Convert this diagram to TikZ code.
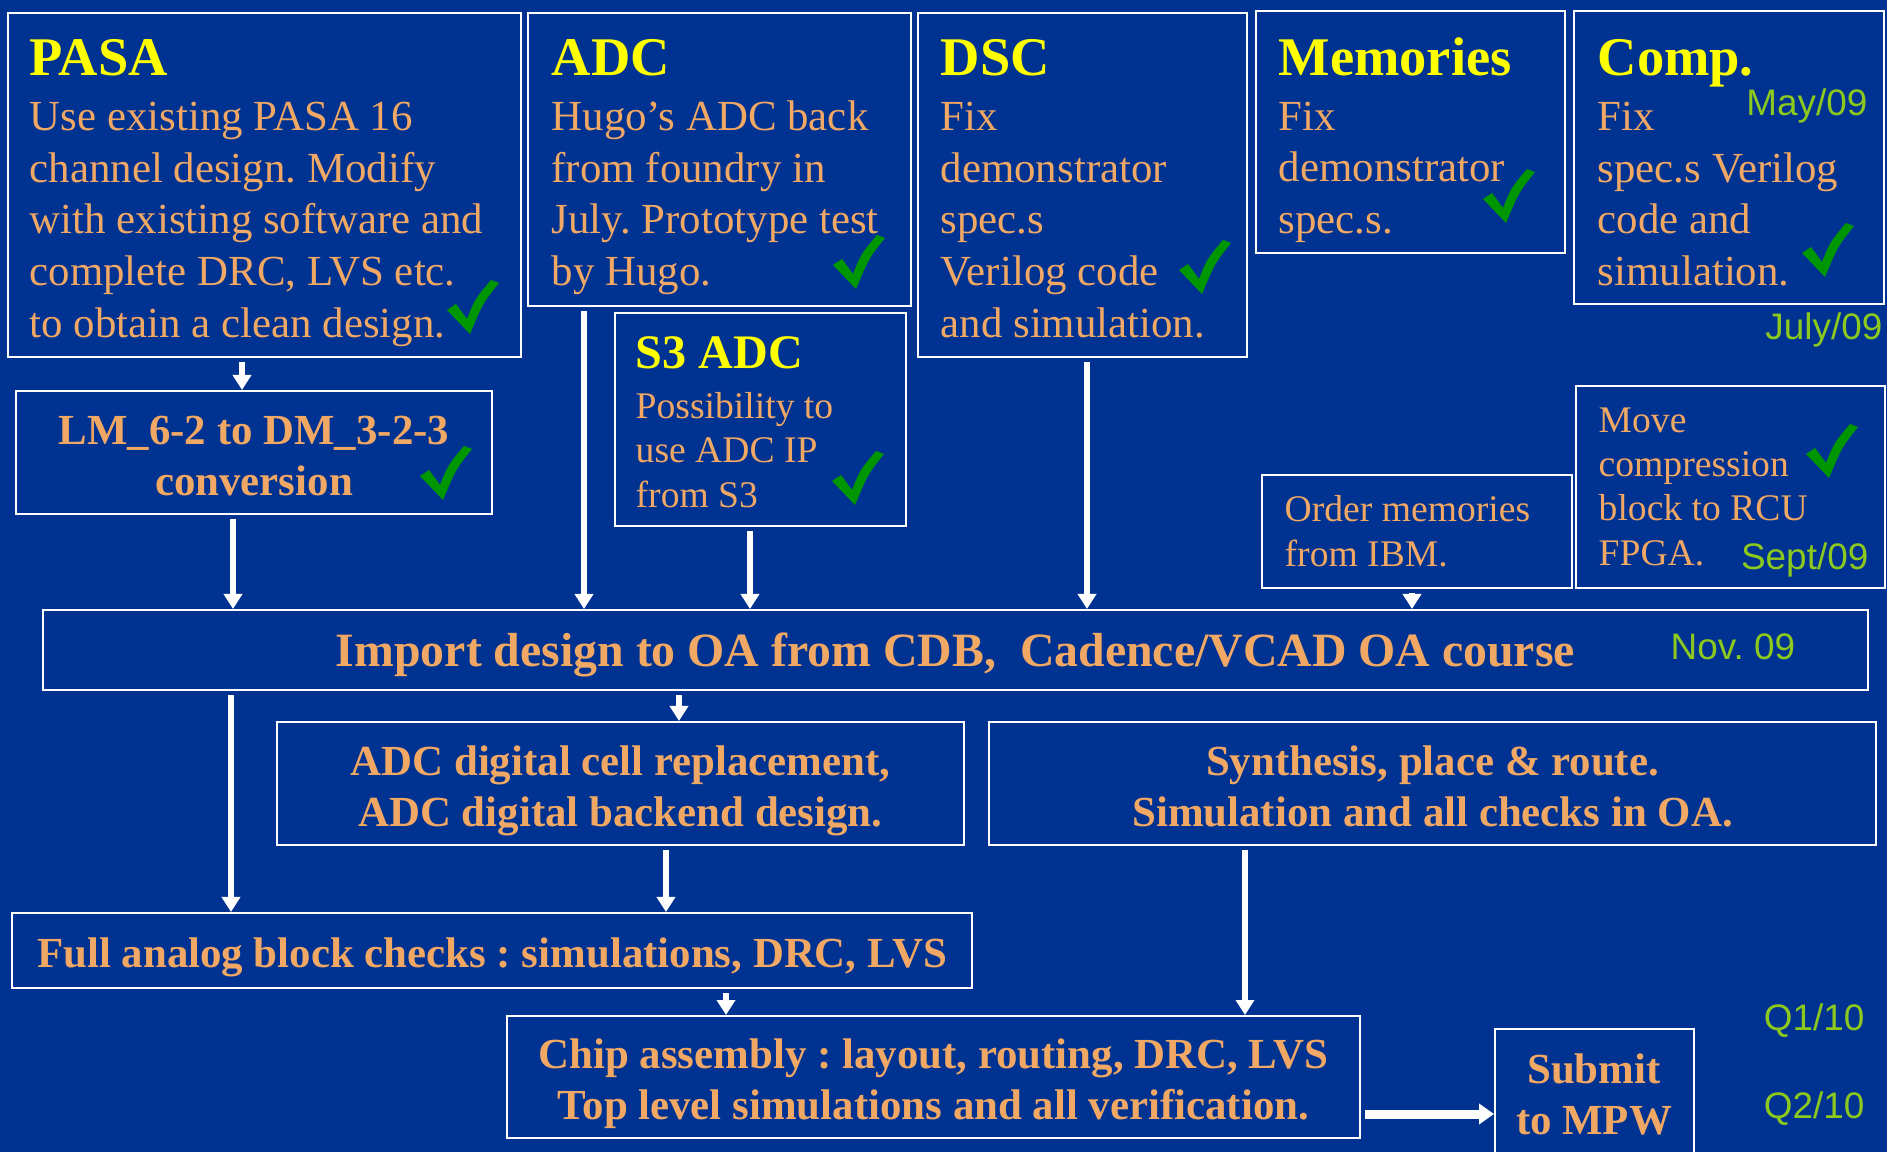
\documentclass[tikz,border=0pt]{standalone}
\usepackage{fontspec}
\setmainfont{Liberation Serif}
\newfontfamily\datefont{Liberation Sans}
\usetikzlibrary{fit,arrows.meta}
\frenchspacing

\definecolor{slidebg}{RGB}{0,50,145}
\definecolor{bodytxt}{RGB}{240,168,100}
\definecolor{headtxt}{RGB}{255,255,0}
\definecolor{datetxt}{RGB}{140,200,30}
\definecolor{tickgreen}{RGB}{0,150,0}

\newcommand\heading[2][15.5]{{\fontsize{#1}{14.5}\selectfont\bfseries\color{headtxt}#2}}

\tikzset{
  blk/.style={draw=white, line width=0.2mm, inner sep=0pt},
  txt/.style={text=bodytxt, inner sep=0pt, align=left, anchor=north west,
    font=\fontsize{12.2}{14.7}\selectfont},
  small txt/.style={txt, font=\fontsize{10.7}{12.6}\selectfont},
  bold txt/.style={text=bodytxt, inner sep=0pt, align=center,
    font=\fontsize{12.2}{14.5}\selectfont\bfseries},
  datelbl/.style={text=datetxt, inner sep=0pt, anchor=base east,
    font=\datefont\fontsize{10.5}{12}\selectfont},
  flow/.style={draw=white, line width=0.55mm, shorten <=0.4mm,
    -{Triangle[length=1.5mm,width=1.8mm]}},
  donemark/.pic={
    \fill[tickgreen] (-26,3) -- (-17,-3) -- (-6,12) .. controls (2,-8) .. (18,-27)
      -- (26,-24) .. controls (10,-4) .. (-3,27) -- cycle;
  }
}

\begin{document}
\begin{tikzpicture}[x=0.1mm, y=-0.1mm]
  \fill[slidebg] (0,0) rectangle (1887,1152);
  \clip (0,0) rectangle (1887,1152);

  % top row
  \node[blk, fit={(8,13) (521,357)}] (pasa) {};
  \node[blk, fit={(528,13) (911,306)}] (adc) {};
  \node[blk, fit={(615,313) (906,526)}] (s3) {};
  \node[blk, fit={(918,13) (1247,357)}] (dsc) {};
  \node[blk, fit={(1256,11) (1565,253)}] (mem) {};
  \node[blk, fit={(1574,11) (1884,304)}] (comp) {};
  \node[blk, fit={(1576,386) (1885,588)}] (move) {};
  \node[blk, fit={(1262,475) (1572,588)}] (order) {};
  \node[blk, fit={(16,391) (492,514)}] (lm) {};

  \node[txt] (pasa-txt) at (29,39) {\heading{PASA}\\[0.9pt]Use existing PASA 16\\channel design. Modify\\with existing software and\\complete DRC, LVS etc.\\to obtain a clean design.};
  \node[txt] (adc-txt) at (551,39) {\heading{ADC}\\[0.9pt]Hugo’s ADC back\\from foundry in\\July. Prototype test\\by Hugo.};
  \node[txt] (dsc-txt) at (940,39) {\heading{DSC}\\[0.9pt]Fix\\demonstrator\\spec.s\\Verilog code\\and simulation.};
  \node[txt] (mem-txt) at (1278,37) {\heading{Memories}\\[0.9pt]Fix\\demonstrator\\spec.s.};
  \node[txt] (comp-txt) at (1597,39) {\heading{Comp.}\\[0.9pt]Fix\\spec.s Verilog\\code and\\simulation.};
  \node[small txt] (s3-txt) at (635,336) {\heading[13.7]{S3 ADC}\\[1.6pt]Possibility to\\use ADC IP\\from S3};
  \node[small txt] (order-txt) at (1284,495) {Order memories\\from IBM.};
  \node[small txt] (move-txt) at (1598,407) {Move\\compression\\block to RCU\\FPGA.};
  \node[bold txt, yshift=-0.4mm] (lm-txt) at (lm) {LM\_6-2 to DM\_3-2-3\\conversion};

  % flow boxes
  \node[blk, fit={(43,610) (1868,690)}] (imp) {};
  \node[blk, fit={(277,722) (964,845)}] (adcd) {};
  \node[blk, fit={(989,722) (1876,845)}] (syn) {};
  \node[blk, fit={(12,913) (972,988)}] (full) {};
  \node[blk, fit={(507,1016) (1360,1138)}] (chip) {};
  \node[blk, fit={(1495,1029) (1694,1170)}] (sub) {};

  \node[bold txt, font=\fontsize{13.6}{16}\selectfont\bfseries, yshift=-0.5mm] (imp-txt) at (imp) {Import design to OA from CDB,~~Cadence/VCAD OA course};
  \node[bold txt, yshift=-0.7mm] (adcd-txt) at (adcd) {ADC digital cell replacement,\\ADC digital backend design.};
  \node[bold txt, yshift=-0.25mm] (syn-txt) at (syn) {Synthesis, place \& route.\\Simulation and all checks in OA.};
  \node[bold txt, yshift=-0.7mm] (full-txt) at (full) {Full analog block checks : simulations, DRC, LVS};
  \node[bold txt, yshift=-0.7mm] (chip-txt) at (chip) {Chip assembly : layout, routing, DRC, LVS\\Top level simulations and all verification.};
  \node[bold txt] (sub-txt) at (1594,1094) {Submit\\to MPW};

  % dates
  \node[datelbl] (may) at (1868,116) {May/09};
  \node[datelbl] (july) at (1883,340) {July/09};
  \node[datelbl] (sept) at (1869,570) {Sept/09};
  \node[datelbl, anchor=base west] (nov) at (1670,660) {Nov. 09};
  \node[datelbl] (q1) at (1865,1030) {Q1/10};
  \node[datelbl] (q2) at (1865,1118) {Q2/10};

  % ticks
  \pic at (473,307) {donemark};
  \pic at (446,473) {donemark};
  \pic at (859,262) {donemark};
  \pic at (858,478) {donemark};
  \pic at (1205,267) {donemark};
  \pic at (1509,196) {donemark};
  \pic at (1828,250) {donemark};
  \pic at (1832,451) {donemark};

  % arrows
  \draw[flow] (pasa.south -| 242,0) -- (lm.north -| 242,0);
  \draw[flow] (lm.south -| 233,0) -- (imp.north -| 233,0);
  \draw[flow] (adc.south -| 584,0) -- (imp.north -| 584,0);
  \draw[flow] (s3.south -| 750,0) -- (imp.north -| 750,0);
  \draw[flow] (dsc.south -| 1087,0) -- (imp.north -| 1087,0);
  \draw[flow] (order.south -| 1412,0) -- (imp.north -| 1412,0);
  \draw[flow] (imp.south -| 231,0) -- (full.north -| 231,0);
  \draw[flow] (imp.south -| 679,0) -- (adcd.north -| 679,0);
  \draw[flow] (adcd.south -| 666,0) -- (full.north -| 666,0);
  \draw[flow] (syn.south -| 1245,0) -- (chip.north -| 1245,0);
  \draw[flow] (full.south -| 726,0) -- (chip.north -| 726,0);
  \draw[flow, line width=0.9mm, -{Triangle[length=1.5mm,width=2mm]}] (chip.east |- 0,1114) -- (sub.west |- 0,1114);
\end{tikzpicture}
\end{document}
